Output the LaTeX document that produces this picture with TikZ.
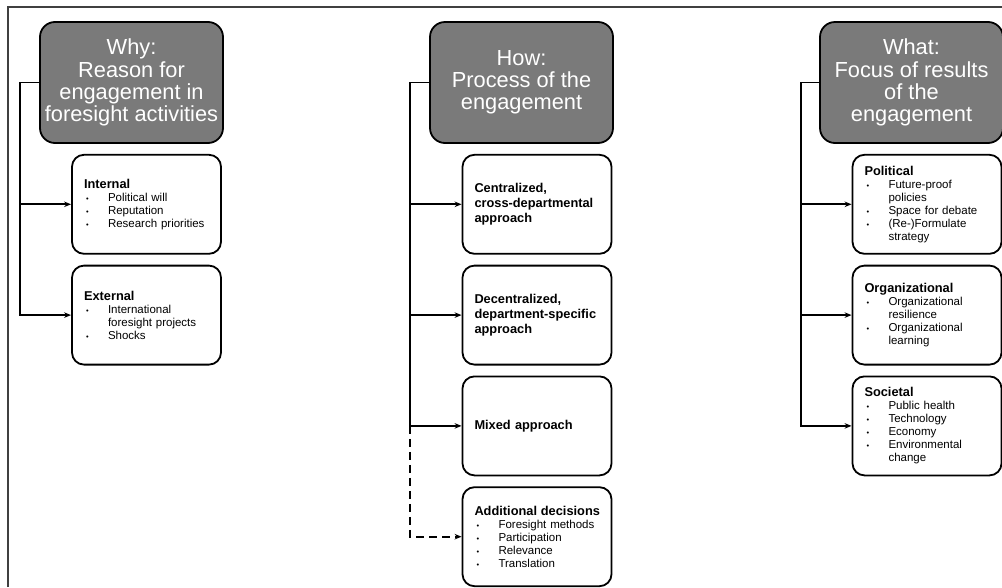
\documentclass[tikz,border=0pt]{standalone}
\usepackage{fontspec}
\setmainfont{Liberation Sans}
\usetikzlibrary{positioning, calc, arrows.meta}

\newcommand{\bul}{\makebox[24pt][l]{\hspace{2pt}{\fontsize{7.5}{7.5}\selectfont\textbullet}}}
\newcommand{\cont}{\hspace*{24pt}}
\newcommand{\subtitle}[1]{\mbox{\fontsize{12.8}{14}\selectfont\bfseries #1}}

\begin{document}
\begin{tikzpicture}[
    x=1pt, y=-1pt,
    head/.style={rectangle, rounded corners=15pt, draw=black, line width=1.8pt, fill=black!52, text=white, minimum width=183pt, minimum height=121pt, align=center, font=\fontsize{21.8}{22.2}\selectfont},
    sub/.style={rectangle, rounded corners=12pt, draw=black, line width=1.8pt, fill=white, text width=125pt, inner xsep=12pt, minimum height=99pt, align=left, font=\fontsize{11.5}{13}\selectfont},
    bold/.style={font=\fontsize{12.8}{15}\selectfont\bfseries},
    arrow/.style={-{Stealth[length=7pt, width=5.5pt]}, line width=1.8pt},
    frameline/.style={draw=black!75, line width=2pt}
]
    \useasboundingbox (0,0) rectangle (1002,587);

    % Frame
    \draw[frameline] (8,587) -- (8,7) -- (1002,7);

    % Why
    \node[head] (why) at (131.5,82.5) {Why:\\Reason for\\engagement in\\foresight activities};
    \node[sub, below=10pt of why.south west, anchor=north west, xshift=32pt] (internal) {\subtitle{Internal}\\
        \bul Political will\\
        \bul Reputation\\
        \bul Research priorities};
    \node[sub, below=10pt of internal] (external) {\subtitle{External}\\
        \bul International\\
        \cont foresight projects\\
        \bul Shocks};

    % How
    \node[head] (how) at (521.5,82.5) {How:\\Process of the\\engagement};
    \node[sub, bold, below=10pt of how.south west, anchor=north west, xshift=32.5pt] (central) {Centralized,\\cross-departmental\\approach};
    \node[sub, bold, below=10pt of central] (decentral) {Decentralized,\\department-specific\\approach};
    \node[sub, bold, below=10pt of decentral] (mixed) {Mixed approach};
    \node[sub, below=10pt of mixed] (additional) {\subtitle{Additional decisions}\\
        \bul Foresight methods\\
        \bul Participation\\
        \bul Relevance\\
        \bul Translation};

    % What
    \node[head] (what) at (911.5,82.5) {What:\\Focus of results\\of the\\engagement};
    \node[sub, below=10pt of what.south west, anchor=north west, xshift=32.5pt] (political) {\subtitle{Political}\\
        \bul Future-proof\\
        \cont policies\\
        \bul Space for debate\\
        \bul (Re-)Formulate\\
        \cont strategy};
    \node[sub, below=10pt of political] (organizational) {\subtitle{Organizational}\\
        \bul Organizational\\
        \cont resilience\\
        \bul Organizational\\
        \cont learning};
    \node[sub, below=10pt of organizational] (societal) {\subtitle{Societal}\\
        \bul Public health\\
        \bul Technology\\
        \bul Economy\\
        \bul Environmental\\
        \cont change};

    % Arrows
    \coordinate[left=19pt of why.west] (whytrunk);
    \draw[arrow] (why.west) -- (whytrunk) |- (external.west);
    \draw[arrow] (whytrunk |- internal.west) -- (internal.west);

    \coordinate[left=19pt of how.west] (howtrunk);
    \draw[arrow] (how.west) -- (howtrunk) |- (mixed.west);
    \draw[arrow] (howtrunk |- central.west) -- (central.west);
    \draw[arrow] (howtrunk |- decentral.west) -- (decentral.west);
    \draw[arrow, dash pattern=on 8pt off 5pt] (howtrunk |- mixed.west) |- (additional.west);

    \coordinate[left=18pt of what.west] (whattrunk);
    \draw[arrow] (what.west) -- (whattrunk) |- (societal.west);
    \draw[arrow] (whattrunk |- political.west) -- (political.west);
    \draw[arrow] (whattrunk |- organizational.west) -- (organizational.west);

\end{tikzpicture}
\end{document}
